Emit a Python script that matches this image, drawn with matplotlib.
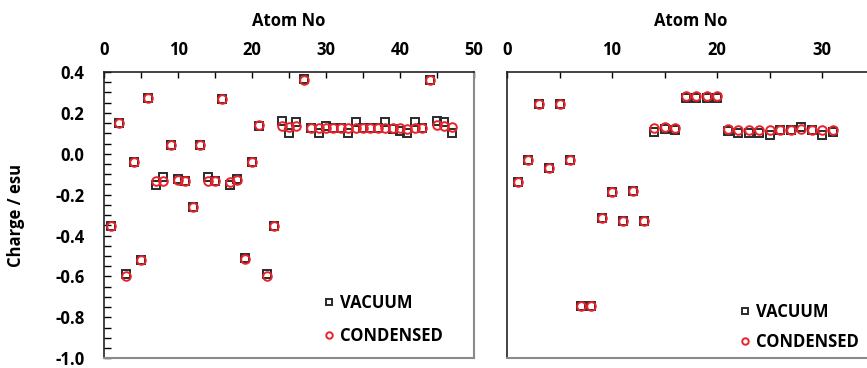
#!/usr/bin/env python

import matplotlib.pyplot as plt
from matplotlib.ticker import MultipleLocator
import numpy as np

plt.rcParams['font.family'] = ['Open Sans', 'DejaVu Sans']
plt.rcParams['font.weight'] = 'bold'

# partial charges per atom, molecule A (left) and molecule B (right)
vac_a = [-0.355, 0.148, -0.59, -0.04, -0.52, 0.275, -0.155, -0.115, 0.045, -0.125,
         -0.135, -0.26, 0.045, -0.115, -0.135, 0.27, -0.155, -0.125, -0.51, -0.04,
         0.135, -0.59, -0.355, 0.158, 0.10, 0.155, 0.365, 0.125, 0.10, 0.137,
         0.125, 0.125, 0.10, 0.155, 0.125, 0.125, 0.125, 0.155, 0.12, 0.11,
         0.10, 0.155, 0.125, 0.36, 0.16, 0.155, 0.10]
cond_a = [-0.355, 0.148, -0.60, -0.04, -0.52, 0.275, -0.135, -0.135, 0.045, -0.13,
          -0.135, -0.26, 0.045, -0.135, -0.135, 0.27, -0.14, -0.13, -0.515, -0.04,
          0.14, -0.60, -0.355, 0.135, 0.133, 0.135, 0.36, 0.125, 0.125, 0.125,
          0.125, 0.125, 0.125, 0.125, 0.125, 0.125, 0.125, 0.125, 0.125, 0.125,
          0.12, 0.125, 0.125, 0.36, 0.14, 0.135, 0.133]

vac_b = [-0.14, -0.03, 0.245, -0.07, 0.245, -0.03, -0.745, -0.745, -0.315, -0.185,
         -0.33, -0.18, -0.33, 0.105, 0.12, 0.115, 0.275, 0.275, 0.275, 0.275,
         0.112, 0.102, 0.102, 0.102, 0.093, 0.117, 0.117, 0.133, 0.117, 0.093,
         0.108]
cond_b = [-0.14, -0.03, 0.245, -0.07, 0.245, -0.03, -0.745, -0.745, -0.315, -0.185,
          -0.33, -0.18, -0.33, 0.128, 0.13, 0.128, 0.28, 0.28, 0.28, 0.28,
          0.12, 0.118, 0.118, 0.118, 0.118, 0.118, 0.118, 0.12, 0.118, 0.118,
          0.118]

atoms_a = np.arange(1, len(vac_a) + 1)
atoms_b = np.arange(1, len(vac_b) + 1)

red = '#e8232b'
dark = '#2a2a2a'
fs = 12

fig = plt.figure(figsize=(8.67, 3.68), dpi=100)
ax_a = fig.add_axes([0.12, 0.0265, 0.4268, 0.778])
ax_b = fig.add_axes([0.5848, 0.0265, 0.4239, 0.778])

for ax, at, v, c in [(ax_a, atoms_a, vac_a, cond_a), (ax_b, atoms_b, vac_b, cond_b)]:
    ax.plot(at, v, 's', ms=6.2, mfc='none', mec=dark, mew=1.4, label='VACUUM')
    ax.plot(at, c, 'o', ms=6.2, mfc='none', mec=red, mew=1.4, label='CONDENSED')
    ax.set_ylim(-1.0, 0.4)
    ax.xaxis.set_ticks_position('top')
    ax.xaxis.set_label_position('top')
    ax.xaxis.set_major_locator(MultipleLocator(10))
    ax.xaxis.set_minor_locator(MultipleLocator(5))
    ax.tick_params(axis='x', which='both', direction='in', length=4, width=1.0,
                   pad=9.5, labelsize=fs)
    ax.set_xlabel('Atom No', fontsize=fs, fontweight='bold', labelpad=10.5)
    ax.spines['top'].set_color('#222222')
    ax.spines['left'].set_color('#222222')
    ax.spines['top'].set_linewidth(1.2)
    ax.spines['left'].set_linewidth(1.2)
    ax.spines['right'].set_color('#8a8a8a')
    ax.spines['bottom'].set_color('#8a8a8a')
    ax.spines['right'].set_linewidth(1.5)
    ax.spines['bottom'].set_linewidth(1.5)
    for lbl in ax.get_xticklabels():
        lbl.set_fontweight('bold')

ax_a.set_xlim(0, 50)
ax_b.set_xlim(0, 35)

ax_a.yaxis.set_major_locator(MultipleLocator(0.2))
ax_a.yaxis.set_minor_locator(MultipleLocator(0.05))
ax_a.tick_params(axis='y', which='both', direction='in', length=5, width=1.0,
                 pad=14, labelsize=fs)
ax_a.set_yticklabels([f'{t:.1f}' for t in ax_a.get_yticks()], fontweight='bold')
ax_a.set_ylim(-1.0, 0.4)
ax_a.set_ylabel('Charge / esu', fontsize=fs, fontweight='bold', labelpad=22)

ax_b.tick_params(axis='y', which='both', left=False, labelleft=False)

ax_a.legend(loc='upper left', bbox_to_anchor=(0.5946, 0.225), frameon=False,
            handlelength=0.6, handletextpad=0.35, borderpad=0, markerscale=0.75,
            borderaxespad=0, labelspacing=0.92, prop={'weight': 'bold', 'size': fs})
ax_b.legend(loc='upper left', bbox_to_anchor=(0.634, 0.194), frameon=False,
            handlelength=0.6, handletextpad=0.35, borderpad=0, markerscale=0.75,
            borderaxespad=0, labelspacing=0.74, prop={'weight': 'bold', 'size': fs})

fig.savefig('out.png', dpi=100)
